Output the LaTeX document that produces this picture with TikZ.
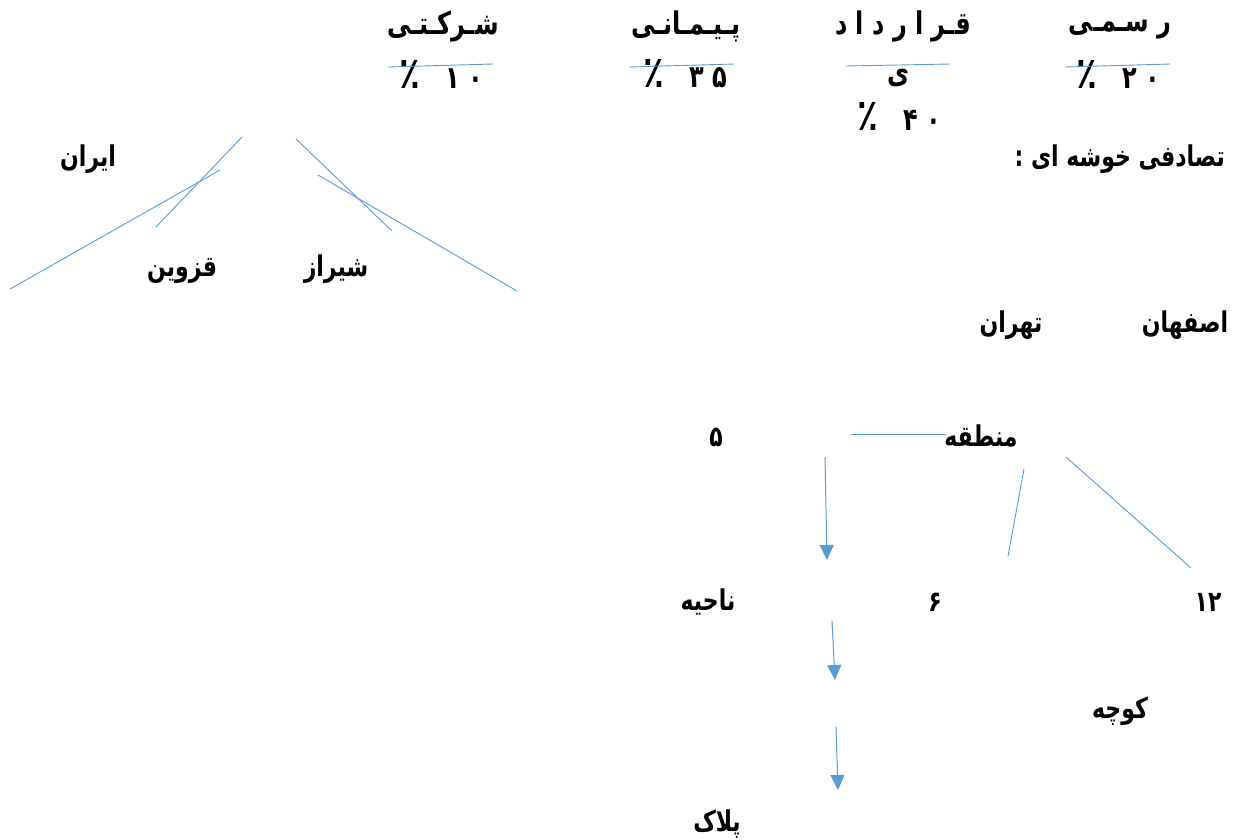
\documentclass[tikz,border=0pt]{standalone}
\usepackage{fontspec}
\usetikzlibrary{arrows.meta}
\TeXXeTstate=1
\newfontfamily\fa[Script=Arabic]{DejaVu Sans}
\definecolor{ln}{HTML}{5B9BD5}
\newcommand{\pct}{{\fontsize{34}{34}\selectfont ٪}}
\newcommand{\tall}[1]{\scalebox{1}[1.3]{#1}}
\tikzset{
  txt/.style={inner sep=0pt, font=\fa\bfseries\fontsize{22}{26}\selectfont},
  head/.style={inner sep=0pt, font=\fa\bfseries\fontsize{24}{28}\selectfont},
  ln/.style={draw=ln, line width=0.9pt},
  arr/.style={draw=ln, line width=1pt, -{Triangle[length=15pt,width=14pt]}}
}
\begin{document}
\begin{tikzpicture}[x=1pt,y=-1pt]
\path[use as bounding box] (0,0) rectangle (1244,839);
% top headings
\node[head] (h1) at (443,26) {\tall{شـرکـتـی}};
\node[head] (p1) at (441,74) {\tall{\beginR\beginL ۱~۰\endL~~~\pct\endR}};
\node[head] (h2) at (686,26) {\tall{پـیـمـانـی}};
\node[head] (p2) at (685,74) {\tall{\beginR\beginL ۳~۵\endL~~~\pct\endR}};
\node[head] (h3) at (903,26) {\tall{\beginR قـر~ا~ر~د~ا~د\endR}};
\node[head] (h3b) at (898,78) {\tall{ی}};
\node[head] (p3) at (899,116) {\tall{\beginR\beginL ۴~۰\endL~~~\pct\endR}};
\node[head] (h4) at (1120,30) {\tall{\beginR ر~سـمـی\endR}};
\node[head] (p4) at (1118,74) {\tall{\beginR\beginL ۲~۰\endL~~~\pct\endR}};
\coordinate (a1) at (388,67); \coordinate (b1) at (493,64);
\coordinate (a2) at (629,67); \coordinate (b2) at (734,64);
\coordinate (a3) at (846,66); \coordinate (b3) at (950,64);
\coordinate (a4) at (1065,67); \coordinate (b4) at (1170,64);
\draw[ln] (a1) -- (b1);
\draw[ln] (a2) -- (b2);
\draw[ln] (a3) -- (b3);
\draw[ln] (a4) -- (b4);
% left tree
\node[txt] (iran) at (88,159) {\tall{ایران}};
\node[txt] (qazvin) at (182,271) {\tall{قزوین}};
\node[txt] (shiraz) at (336,269) {\tall{شیراز}};
\coordinate (l1a) at (242,137); \coordinate (l1b) at (156,227);
\coordinate (l2a) at (220,170); \coordinate (l2b) at (10,289);
\coordinate (l3a) at (296,139); \coordinate (l3b) at (392,231);
\coordinate (l4a) at (318,175); \coordinate (l4b) at (517,291);
\draw[ln] (l1a) -- (l1b);
\draw[ln] (l2a) -- (l2b);
\draw[ln] (l3a) -- (l3b);
\draw[ln] (l4a) -- (l4b);
% right
\node[txt, anchor=east] (title) at (1225,159) {\tall{\beginR تصادفی خوشه ای :\endR}};
\node[txt] (esf) at (1185,325) {\tall{اصفهان}};
\node[txt] (teh) at (1011,325) {\tall{تهران}};
\node[txt] (five) at (716,437) {\tall{۵}};
\node[txt] (mant) at (981,436) {\tall{منطقه}};
\coordinate (hA) at (851,434); \coordinate (hB) at (946,434);
\draw[ln] (hA) -- (hB);
\coordinate (r1a) at (1024,469); \coordinate (r1b) at (1008,556);
\coordinate (r2a) at (1066,457); \coordinate (r2b) at (1191,568);
\draw[ln] (r1a) -- (r1b);
\draw[ln] (r2a) -- (r2b);
\coordinate (ar1a) at (825,457); \coordinate (ar1b) at (827,560);
\draw[arr] (ar1a) -- (ar1b);
\node[txt] (nahie) at (708,602) {\tall{ناحیه}};
\node[txt] (six) at (935,602) {\tall{۶}};
\node[txt] (twelve) at (1208,602) {\tall{۱۲}};
\coordinate (ar2a) at (832,621); \coordinate (ar2b) at (835,680);
\draw[arr] (ar2a) -- (ar2b);
\node[txt] (kooche) at (1120,711) {\tall{کوچه}};
\coordinate (ar3a) at (836,727); \coordinate (ar3b) at (838,790);
\draw[arr] (ar3a) -- (ar3b);
\node[txt] (pelak) at (717,824) {\tall{پلاک}};
\end{tikzpicture}
\end{document}
